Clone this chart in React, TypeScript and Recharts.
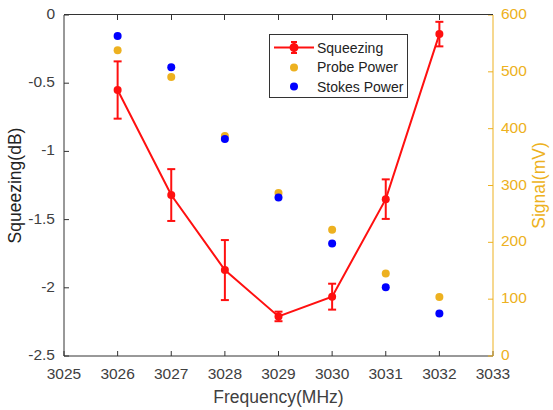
import React from "react";
import {
  ComposedChart,
  Line,
  Scatter,
  XAxis,
  YAxis,
  ErrorBar,
  Legend,
} from "recharts";

const frequency = [3026, 3027, 3028, 3029, 3030, 3031, 3032];
const squeezing = [-0.55, -1.32, -1.87, -2.21, -2.065, -1.35, -0.14];
const squeezingErr = [0.21, 0.19, 0.22, 0.035, 0.095, 0.145, 0.09];
const probePower = [538, 491, 387, 287, 222, 145, 104];
const stokesPower = [563, 508, 382, 279, 198, 121, 75];

const xTicks = [3025, 3026, 3027, 3028, 3029, 3030, 3031, 3032, 3033];
const leftTicks = [-2.5, -2, -1.5, -1, -0.5, 0];
const rightTicks = [0, 100, 200, 300, 400, 500, 600];

const RED = "#ff1010";
const ORANGE = "#edb120";
const BLUE = "#0000ff";
const AXIS = "#333333";
const TEXT = "#404040";
const FONT = "'Liberation Sans', Arial, sans-serif";

const CHART_W = 553;
const CHART_H = 410;
const TOP = 15;
const LEFT_W = 64;
const RIGHT_W = 60;

const data = frequency.map((f, i) => ({
  freq: f,
  sq: squeezing[i],
  err: squeezingErr[i],
  probe: probePower[i],
  stokes: stokesPower[i],
}));

// tickSize is negative so the tick lines point into the plot (MATLAB style);
// the label positions below compensate for that
const BottomTick = (props: any) => {
  const { x, y, payload } = props;
  return (
    <text x={x} y={y + 24} fill={TEXT} fontSize={15.5} textAnchor="middle" dominantBaseline="middle">
      {payload.value}
    </text>
  );
};

const LeftTick = (props: any) => {
  const { x, y, payload } = props;
  return (
    <text x={x - 14} y={y} fill={TEXT} fontSize={15.5} textAnchor="end" dominantBaseline="middle">
      {payload.value}
    </text>
  );
};

const RightTick = (props: any) => {
  const { x, y, payload } = props;
  return (
    <text x={x + 13} y={y} fill={ORANGE} fontSize={15.5} textAnchor="start" dominantBaseline="middle">
      {payload.value}
    </text>
  );
};

const dotShape = (color: string) => (p: any) =>
  <circle cx={p.cx} cy={p.cy} r={4} fill={color} />;

const LegendBox = () => (
  <div
    style={{
      border: `1px solid ${AXIS}`,
      background: "#fff",
      width: 139,
      height: 64,
      boxSizing: "border-box",
      fontFamily: FONT,
      fontSize: 14,
      color: "#222",
      paddingTop: 3,
      whiteSpace: "nowrap",
    }}
  >
    {[
      { name: "Squeezing", kind: "line" },
      { name: "Probe Power", kind: "probe" },
      { name: "Stokes Power", kind: "stokes" },
    ].map((it) => (
      <div key={it.name} style={{ display: "flex", alignItems: "center", height: 19.5 }}>
        <svg width={44} height={19} style={{ marginLeft: 2, flex: "none" }}>
          {it.kind === "line" ? (
            <g stroke={RED} strokeWidth={2}>
              <line x1={2} x2={42} y1={9.5} y2={9.5} />
              <line x1={22} x2={22} y1={4} y2={15} />
              <line x1={19} x2={25} y1={4} y2={4} />
              <line x1={19} x2={25} y1={15} y2={15} />
              <circle cx={22} cy={9.5} r={3.5} fill={RED} />
            </g>
          ) : (
            <circle cx={22} cy={9.5} r={4} fill={it.kind === "probe" ? ORANGE : BLUE} />
          )}
        </svg>
        <span style={{ marginLeft: 1 }}>{it.name}</span>
      </div>
    ))}
  </div>
);

// top edge of the axes box with inward ticks, one cell per x tick interval
const TopEdge = () => (
  <div
    style={{
      position: "absolute",
      left: LEFT_W,
      top: TOP - 1,
      width: CHART_W - LEFT_W - RIGHT_W,
      height: 5,
      borderTop: `1px solid ${AXIS}`,
      display: "flex",
      pointerEvents: "none",
    }}
  >
    {xTicks.slice(1).map((t, i) => (
      <div
        key={t}
        style={{
          flex: 1,
          borderRight: i < xTicks.length - 2 ? `1px solid ${AXIS}` : "none",
        }}
      />
    ))}
  </div>
);

export default function App() {
  return (
    <div style={{ position: "absolute", left: 0, top: 0, background: "#fff" }}>
      <ComposedChart
        width={CHART_W}
        height={CHART_H}
        data={data}
        margin={{ top: TOP, right: 0, left: 0, bottom: 0 }}
        style={{ fontFamily: FONT }}
      >
        <XAxis
          dataKey="freq"
          type="number"
          domain={[3025, 3033]}
          ticks={xTicks}
          height={54}
          stroke={AXIS}
          tickLine={{ stroke: AXIS }}
          tickSize={-5}
          tickMargin={0}
          tick={<BottomTick />}
          label={{
            content: (p: any) => (
              <text
                x={p.viewBox.x + p.viewBox.width / 2}
                y={p.viewBox.y + 42}
                fill={TEXT}
                fontSize={17.5}
                textAnchor="middle"
                dominantBaseline="middle"
              >
                Frequency(MHz)
              </text>
            ),
          }}
        />
        <YAxis
          yAxisId="left"
          type="number"
          domain={[-2.5, 0]}
          ticks={leftTicks}
          width={LEFT_W}
          stroke={AXIS}
          tickLine={{ stroke: AXIS }}
          tickSize={-5}
          tickMargin={0}
          tick={<LeftTick />}
          label={{
            content: (p: any) => {
              const cx = p.viewBox.x + 16;
              const cy = p.viewBox.y + p.viewBox.height / 2;
              return (
                <text
                  x={cx}
                  y={cy}
                  fill="#222"
                  fontSize={17.5}
                  textAnchor="middle"
                  dominantBaseline="middle"
                  transform={`rotate(-90 ${cx} ${cy})`}
                >
                  Squeezing(dB)
                </text>
              );
            },
          }}
        />
        <YAxis
          yAxisId="right"
          orientation="right"
          type="number"
          domain={[0, 600]}
          ticks={rightTicks}
          width={RIGHT_W}
          stroke={ORANGE}
          tickLine={{ stroke: ORANGE }}
          tickSize={-5}
          tickMargin={0}
          tick={<RightTick />}
          label={{
            content: (p: any) => {
              const cx = p.viewBox.x + 47;
              const cy = p.viewBox.y + p.viewBox.height / 2;
              return (
                <text
                  x={cx}
                  y={cy}
                  fill={ORANGE}
                  fontSize={17.5}
                  textAnchor="middle"
                  dominantBaseline="middle"
                  transform={`rotate(-90 ${cx} ${cy})`}
                >
                  Signal(mV)
                </text>
              );
            },
          }}
        />
        <Legend
          layout="vertical"
          align="center"
          verticalAlign="middle"
          content={<LegendBox />}
          wrapperStyle={{ position: "absolute", left: 269, top: 34, width: "auto" }}
        />
        <Line
          yAxisId="left"
          dataKey="sq"
          type="linear"
          stroke={RED}
          strokeWidth={2}
          dot={{ r: 4, fill: RED, stroke: RED, strokeWidth: 0 }}
          activeDot={false}
          isAnimationActive={false}
        >
          <ErrorBar dataKey="err" width={4} stroke={RED} strokeWidth={2} direction="y" />
        </Line>
        <Scatter
          yAxisId="right"
          dataKey="probe"
          fill={ORANGE}
          shape={dotShape(ORANGE)}
          isAnimationActive={false}
        />
        <Scatter
          yAxisId="right"
          dataKey="stokes"
          fill={BLUE}
          shape={dotShape(BLUE)}
          isAnimationActive={false}
        />
      </ComposedChart>
      <TopEdge />
    </div>
  );
}
